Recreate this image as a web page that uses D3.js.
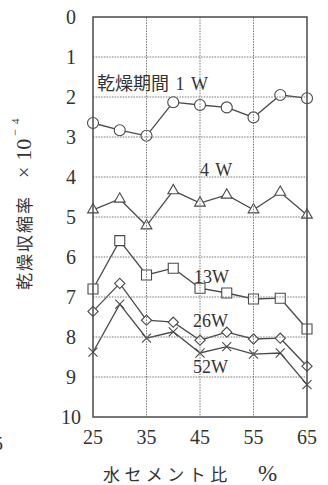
<!DOCTYPE html>
<html>
<head>
<meta charset="utf-8">
<script src="https://cdn.jsdelivr.net/npm/d3@7"></script>
<style>
  html, body { margin: 0; padding: 0; background: #fff; }
  svg { display: block; }
  text { font-family: "Liberation Serif", "Noto Sans CJK JP", serif; fill: #333; }
</style>
</head>
<body>
<div id="chart"></div>
<script>
// ---- data (drying shrinkage ×10^-4 vs W/C %) ----
const wcRatio   = [25, 30, 35, 40, 45, 50, 55, 60, 65];
const shrink1W  = [2.65, 2.83, 2.97, 2.13, 2.20, 2.26, 2.51, 1.95, 2.03];
const shrink4W  = [4.82, 4.55, 5.22, 4.34, 4.65, 4.45, 4.82, 4.38, 4.95];
const shrink13W = [6.80, 5.59, 6.45, 6.28, 6.78, 6.90, 7.05, 7.03, 7.80];
const shrink26W = [7.36, 6.66, 7.58, 7.63, 8.08, 7.88, 8.05, 8.03, 8.73];
const shrink52W = [8.38, 7.18, 8.03, 7.87, 8.40, 8.24, 8.43, 8.40, 9.19];

const yTicks = [0, 1, 2, 3, 4, 5, 6, 7, 8, 9, 10];
const xTicks = [25, 35, 45, 55, 65];
const seriesNames = ['乾燥期間 1 W', '4 W', '13W', '26W', '52W'];

const width = 328, height = 485;
const margin = { top: 17, right: 21, bottom: 68, left: 93 };

const svg = d3.select('#chart').append('svg')
  .attr('width', width).attr('height', height);

const x = d3.scaleLinear().domain([25, 65]).range([margin.left, width - margin.right]);
const y = d3.scaleLinear().domain([0, 10]).range([margin.top, height - margin.bottom]);

const ink = '#4a4a4a';

// series table with marker shapes
const series = [
  { name: seriesNames[0], values: shrink1W,  symbol: d3.symbolCircle,   size: 95, rot: 0,  fill: '#fff', lab: [97, 90] },
  { name: seriesNames[1], values: shrink4W,  symbol: d3.symbolTriangle, size: 50, rot: 0,  fill: '#fff', lab: [200, 176] },
  { name: seriesNames[2], values: shrink13W, symbol: d3.symbolSquare,   size: 100, rot: 0, fill: '#fff', lab: [194, 283] },
  { name: seriesNames[3], values: shrink26W, symbol: d3.symbolSquare,   size: 52, rot: 45, fill: '#fff', lab: [193, 327] },
  { name: seriesNames[4], values: shrink52W, symbol: d3.symbolX,        size: 55, rot: 0,  fill: 'none', lab: [193, 373] },
];

const line = d3.line().x((d, i) => x(wcRatio[i])).y(d => y(d));

// lines + markers
series.forEach(s => {
  svg.append('path')
    .attr('d', line(s.values))
    .attr('fill', 'none')
    .attr('stroke', ink)
    .attr('stroke-width', 1.3);

  svg.append('g').selectAll('path')
    .data(s.values)
    .join('path')
    .attr('transform', (d, i) => `translate(${x(wcRatio[i])},${y(d)}) rotate(${s.rot})`)
    .attr('d', d3.symbol(s.symbol, s.size))
    .attr('fill', s.fill)
    .attr('stroke', ink)
    .attr('stroke-width', 1.1);
});

// dotted gridlines (drawn over the markers, like the print)
const grid = svg.append('g')
  .attr('stroke', '#777')
  .attr('stroke-width', 1)
  .attr('stroke-dasharray', '1.5,1.2');

grid.selectAll('line.h')
  .data(yTicks.filter(t => t > 0 && t < 10))
  .join('line')
  .attr('class', 'h')
  .attr('x1', x(25)).attr('x2', x(65))
  .attr('y1', d => y(d)).attr('y2', d => y(d));

grid.selectAll('line.v')
  .data(xTicks.filter(t => t > 25 && t < 65))
  .join('line')
  .attr('class', 'v')
  .attr('y1', y(0)).attr('y2', y(10))
  .attr('x1', d => x(d)).attr('x2', d => x(d));

// frame
svg.append('rect')
  .attr('x', x(25)).attr('y', y(0))
  .attr('width', x(65) - x(25)).attr('height', y(10) - y(0))
  .attr('fill', 'none')
  .attr('stroke', ink)
  .attr('stroke-width', 1.5);

// y tick labels
svg.append('g').selectAll('text')
  .data(yTicks)
  .join('text')
  .attr('x', 71)
  .attr('y', d => y(d))
  .attr('dy', '0.34em')
  .attr('text-anchor', 'middle')
  .style('font-size', '20px')
  .text(d => d);

// x tick labels
svg.append('g').selectAll('text')
  .data(xTicks)
  .join('text')
  .attr('x', d => x(d))
  .attr('y', 444)
  .attr('text-anchor', 'middle')
  .style('font-size', '20px')
  .text(d => d);

// series labels
series.forEach(s => {
  svg.append('text')
    .attr('x', s.lab[0]).attr('y', s.lab[1])
    .style('font-size', '18px')
    .style('word-spacing', '2px')
    .text(s.name);
});

// x axis title
svg.append('text')
  .attr('x', 103).attr('y', 481)
  .style('font-size', '17px')
  .style('letter-spacing', '4.5px')
  .text('水セメント比');
svg.append('text')
  .attr('x', 258).attr('y', 481)
  .style('font-size', '23px')
  .text('%');

// y axis title (rotated, reads bottom to top)
const yt = svg.append('text')
  .attr('transform', 'translate(31,290) rotate(-90)')
  .style('font-size', '17px');
yt.append('tspan').style('letter-spacing', '2px').text('乾燥収縮率');
yt.append('tspan').attr('dx', 17).style('font-size', '20px').text('×');
yt.append('tspan').attr('dx', 6).style('font-size', '22px').text('10');
yt.append('tspan').attr('dx', 3).attr('dy', -12).style('font-size', '12px').text('−');
yt.append('tspan').attr('dx', 5).style('font-size', '11px').text('4');

// cropped tick digit at the left edge of the scan
svg.append('text')
  .attr('x', 3).attr('y', 450)
  .attr('text-anchor', 'end')
  .style('font-size', '19px')
  .text('5');
</script>
</body>
</html>
